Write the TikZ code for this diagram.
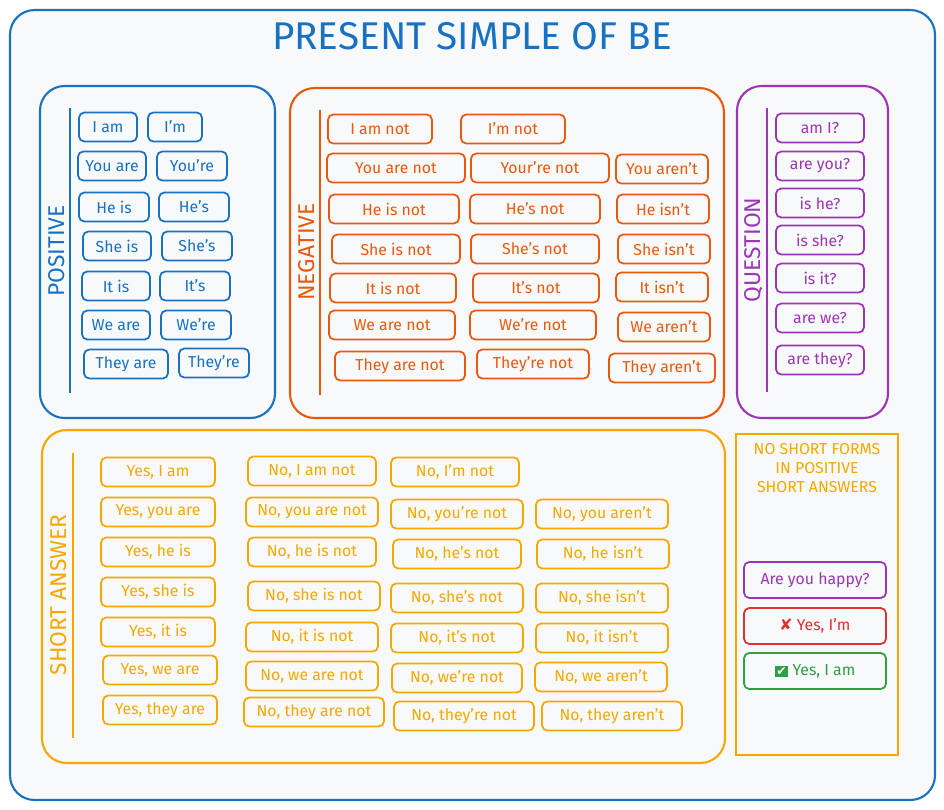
\documentclass[tikz,border=0pt]{standalone}
\usepackage{fontspec}
\setmainfont{Fira Sans}
\newfontfamily\symfont{DejaVu Sans}
\definecolor{beblue}{HTML}{1971C2}
\definecolor{beorange}{HTML}{E8590C}
\definecolor{bepurple}{HTML}{9C36B5}
\definecolor{beyellow}{HTML}{F5A800}
\definecolor{bered}{HTML}{E03131}
\definecolor{begreen}{HTML}{2F9E44}
\definecolor{bebg}{HTML}{F8F9FA}
\tikzset{
  panel/.style={draw,line width=1.2pt,rounded corners=14pt},
  pill/.style={draw,line width=1pt,rounded corners=3pt,minimum height=0.58cm,inner sep=1pt,font=\fontsize{9}{10}\selectfont},
  side/.style={font=\fontsize{13}{14}\selectfont,rotate=90}
}
\begin{document}
\begin{tikzpicture}[x=0.02cm,y=-0.02cm]
\useasboundingbox (0,0) rectangle (944,809);
\draw[panel,beblue,fill=bebg] (10,10) rectangle (935,800);
\node[beblue,font=\fontsize{22}{24}\selectfont] (title) at (472,36) {PRESENT SIMPLE OF BE};
% panels
\draw[panel,beblue] (40,86) rectangle (275,418);
\draw[panel,beorange] (290,88) rectangle (724,418);
\draw[panel,bepurple] (737,86) rectangle (888,418);
\draw[panel,beyellow] (42,430) rectangle (725,763);
\draw[beyellow,line width=1.2pt] (736,434) rectangle (898,755);
% side labels
\draw[beblue,line width=1.2pt] (70,108) -- (70,393);
\node[side,beblue] (lpos) at (57,251) {POSITIVE};
\draw[beorange,line width=1.2pt] (320,110) -- (320,395);
\node[side,beorange] (lneg) at (307,252) {NEGATIVE};
\draw[bepurple,line width=1.2pt] (767,108) -- (767,392);
\node[side,bepurple] (lque) at (754,250) {QUESTION};
\draw[beyellow,line width=1.2pt] (73,453) -- (73,738);
\node[side,beyellow] (lsa) at (59,595) {SHORT ANSWER};
% positive
\foreach \x/\y/\w/\t [count=\i] in {108/127/58/I am,175/127/54/I'm,112/166/68/You are,192/166/70/You're,
  114/207/70/He is,194/207/70/He's,117/246/68/She is,197/246/70/She's,116/286/68/It is,195/286/70/It's,
  116/325/68/We are,196/325/70/We're,126/364/84/They are,214/363/70/They're}
  \node[pill,beblue,minimum width=\w*0.02cm] (pos\i) at (\x,\y) {\t};
% negative
\foreach \x/\y/\w/\t [count=\i] in {380/129/104/I am not,513/129/104/I'm not,
  396/168/138/You are not,540/168/138/Your're not,662/169/92/You aren't,
  394/209/130/He is not,535/209/130/He's not,663/209/92/He isn't,
  396/249/128/She is not,535/249/128/She's not,664/249/92/She isn't,
  393/288/126/It is not,536/288/126/It's not,662/287/92/It isn't,
  392/325/126/We are not,533/325/126/We're not,664/327/92/We aren't,
  400/366/130/They are not,533/364/112/They're not,662/368/106/They aren't}
  \node[pill,beorange,minimum width=\w*0.02cm] (neg\i) at (\x,\y) {\t};
% question
\foreach \y/\t [count=\i] in {128/am I?,166/are you?,203/is he?,240/is she?,278/is it?,318/are we?,360/are they?}
  \node[pill,bepurple,minimum width=88*0.02cm] (que\i) at (820,\y) {\t};
% short answers
\foreach \x/\y/\w/\t [count=\i] in {158/472/114/{Yes, I am},158/512/114/{Yes, you are},158/552/114/{Yes, he is},
  158/592/114/{Yes, she is},158/632/114/{Yes, it is},160/670/114/{Yes, we are},160/710/114/{Yes, they are},
  312/471/128/{No, I am not},312/512/132/{No, you are not},312/552/128/{No, he is not},314/596/132/{No, she is not},
  312/637/132/{No, it is not},312/676/132/{No, we are not},314/712/140/{No, they are not},
  455/472/128/{No, I'm not},457/514/132/{No, you're not},457/554/128/{No, he's not},457/598/132/{No, she's not},
  457/638/132/{No, it's not},457/678/130/{No, we're not},464/716/140/{No, they're not},
  602/514/132/{No, you aren't},603/554/132/{No, he isn't},602/598/132/{No, she isn't},
  602/638/132/{No, it isn't},601/677/132/{No, we aren't},612/716/140/{No, they aren't}}
  \node[pill,beyellow,minimum width=\w*0.02cm] (sa\i) at (\x,\y) {\t};
% note
\node[beyellow,align=center,font=\fontsize{9}{11}\selectfont] (note) at (817,468) {NO SHORT FORMS\\IN POSITIVE\\SHORT ANSWERS};
\node[pill,bepurple,minimum width=142*0.02cm,minimum height=0.72cm] (ex1) at (815,580) {Are you happy?};
\node[pill,bered,minimum width=142*0.02cm,minimum height=0.72cm] (ex2) at (815,626) {{\symfont\bfseries\color{bered}✘}\ Yes, I'm};
\node[pill,begreen,minimum width=142*0.02cm,minimum height=0.72cm] (ex3) at (815,671) {\fboxsep=1pt\colorbox{begreen}{\symfont\color{white}\fontsize{7}{8}\selectfont✔}\ Yes, I am};
\end{tikzpicture}
\end{document}
